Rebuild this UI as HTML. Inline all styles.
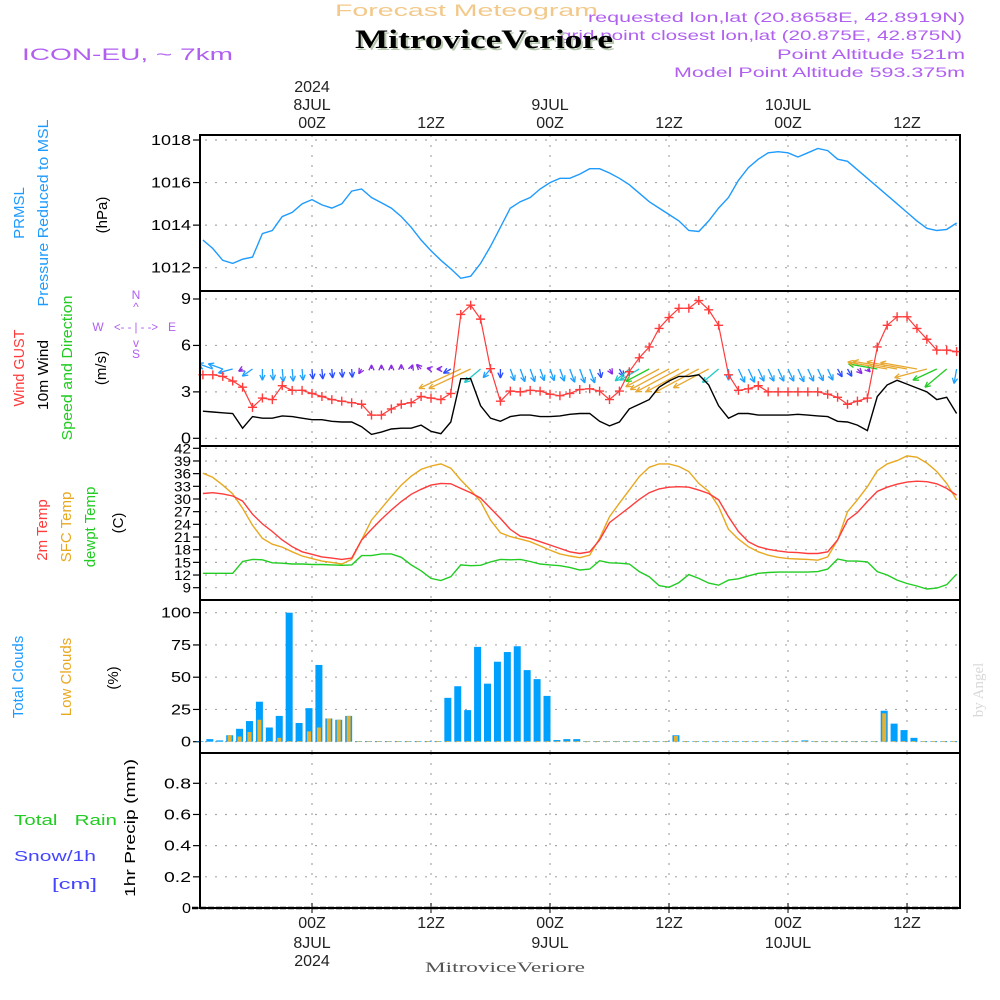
<!DOCTYPE html>
<html><head><meta charset="utf-8">
<style>
html,body{margin:0;padding:0;background:#fff;}
svg{display:block;font-family:"Liberation Sans",sans-serif;}
</style></head>
<body>
<svg id="chart" width="1000" height="1000" viewBox="0 0 1000 1000" xmlns="http://www.w3.org/2000/svg">
  <text x="335" y="16" font-size="17" fill="#f2c98a" textLength="263" lengthAdjust="spacingAndGlyphs">Forecast Meteogram</text>
  <g fill="#b060f0" font-size="14">
    <text x="588" y="22" textLength="377" lengthAdjust="spacingAndGlyphs">requested lon,lat (20.8658E, 42.8919N)</text>
    <text x="560" y="40" textLength="402" lengthAdjust="spacingAndGlyphs">grid point closest lon,lat (20.875E, 42.875N)</text>
    <text x="777" y="59" textLength="188" lengthAdjust="spacingAndGlyphs">Point Altitude 521m</text>
    <text x="674" y="77" textLength="291" lengthAdjust="spacingAndGlyphs">Model Point Altitude 593.375m</text>
  </g>
  <text x="357" y="50" font-size="26" font-weight="bold" font-family="Liberation Serif,serif" fill="#b8c8b0" textLength="258" lengthAdjust="spacingAndGlyphs">MitroviceVeriore</text>
  <text x="355" y="48" font-size="26" font-weight="bold" font-family="Liberation Serif,serif" fill="#000" textLength="258" lengthAdjust="spacingAndGlyphs">MitroviceVeriore</text>
  <text x="22" y="60" font-size="17" fill="#b060f0" textLength="211" lengthAdjust="spacingAndGlyphs">ICON-EU, ~ 7km</text>
  <text x="983" y="690" font-size="15" fill="#d8d8d8" font-family="Liberation Serif,serif" transform="rotate(-90 983 690)" text-anchor="middle">by Angel</text>

  <g font-size="15">
    <text transform="translate(24,213) rotate(-90)" text-anchor="middle" fill="#1e9bff">PRMSL</text>
    <text transform="translate(48,213) rotate(-90)" text-anchor="middle" fill="#1e9bff" textLength="187" lengthAdjust="spacingAndGlyphs">Pressure Reduced to MSL</text>
    <text transform="translate(107,215) rotate(-90)" text-anchor="middle" fill="#000">(hPa)</text>
    <text transform="translate(24,368) rotate(-90)" text-anchor="middle" fill="#ff3b3b" textLength="77" lengthAdjust="spacingAndGlyphs">Wind GUST</text>
    <text transform="translate(48,375) rotate(-90)" text-anchor="middle" fill="#000" textLength="70" lengthAdjust="spacingAndGlyphs">10m Wind</text>
    <text transform="translate(72,368) rotate(-90)" text-anchor="middle" fill="#22cc22" textLength="145" lengthAdjust="spacingAndGlyphs">Speed and Direction</text>
    <text transform="translate(106,368) rotate(-90)" text-anchor="middle" fill="#000">(m/s)</text>
    <g fill="#b060f0" font-size="12" text-anchor="middle">
      <text x="136" y="299">N</text><text x="136" y="311">^</text>
      <text x="136" y="331" textLength="44" lengthAdjust="spacingAndGlyphs">&lt;- - | - -&gt;</text>
      <text x="98" y="331">W</text><text x="172" y="331">E</text>
      <text x="136" y="347">v</text><text x="136" y="358">S</text>
    </g>
    <text transform="translate(47,530) rotate(-90)" text-anchor="middle" fill="#ff3b3b">2m Temp</text>
    <text transform="translate(71,527) rotate(-90)" text-anchor="middle" fill="#e8a820">SFC Temp</text>
    <text transform="translate(95,527) rotate(-90)" text-anchor="middle" fill="#22cc22">dewpt Temp</text>
    <text transform="translate(123,523) rotate(-90)" text-anchor="middle" fill="#000">(C)</text>
    <text transform="translate(23,677) rotate(-90)" text-anchor="middle" fill="#1e9bff">Total Clouds</text>
    <text transform="translate(71,677) rotate(-90)" text-anchor="middle" fill="#e8a820">Low Clouds</text>
    <text transform="translate(118,678) rotate(-90)" text-anchor="middle" fill="#000">(%)</text>
    <text x="14" y="825" fill="#22cc22" textLength="103" lengthAdjust="spacingAndGlyphs">Total&#160;&#160;&#160;Rain</text>
    <text x="14" y="861" fill="#4444ff" textLength="82" lengthAdjust="spacingAndGlyphs">Snow/1h</text>
    <text x="52" y="889" fill="#4444ff" textLength="45" lengthAdjust="spacingAndGlyphs">[cm]</text>
    <text transform="translate(135,828) rotate(-90)" text-anchor="middle" fill="#000" textLength="138" lengthAdjust="spacingAndGlyphs">1hr Precip (mm)</text>
  </g>
  <g id="plot"></g>
  <text x="425" y="972" font-size="15" font-family="Liberation Serif,serif" fill="#555" textLength="160" lengthAdjust="spacingAndGlyphs">MitroviceVeriore</text>
</svg>
<script>
const startHour = -11;
const pressure = [1013.3,1012.9,1012.35,1012.2,1012.4,1012.5,1013.6,1013.75,1014.4,1014.6,1015.0,1015.2,1014.95,1014.8,1015.0,1015.6,1015.7,1015.3,1015.05,1014.8,1014.4,1013.9,1013.3,1012.8,1012.35,1011.95,1011.5,1011.6,1012.2,1013.0,1013.9,1014.8,1015.1,1015.3,1015.7,1016.0,1016.2,1016.2,1016.4,1016.65,1016.65,1016.45,1016.2,1015.9,1015.5,1015.1,1014.8,1014.5,1014.2,1013.75,1013.7,1014.2,1014.8,1015.3,1016.1,1016.7,1017.1,1017.4,1017.45,1017.4,1017.2,1017.4,1017.6,1017.5,1017.1,1017.0,1016.6,1016.2,1015.8,1015.4,1015.0,1014.6,1014.2,1013.85,1013.75,1013.8,1014.1];
const windGust = [4.1,4.1,4.0,3.7,3.3,2.0,2.6,2.5,3.4,3.1,3.1,2.9,2.7,2.5,2.4,2.3,2.2,1.5,1.5,1.9,2.2,2.3,2.7,2.6,2.5,2.9,8.0,8.6,7.7,4.5,2.4,3.05,3.0,3.1,3.05,2.85,2.75,2.9,3.15,3.2,3.05,2.5,3.05,4.3,5.2,5.9,7.1,7.8,8.4,8.4,8.9,8.3,7.3,4.1,3.1,3.2,3.4,3.0,3.0,3.0,3.0,3.0,3.0,2.85,2.65,2.2,2.4,2.6,5.9,7.3,7.85,7.85,7.1,6.4,5.7,5.7,5.6];
const windSpeed = [1.75,1.7,1.65,1.6,0.65,1.4,1.3,1.3,1.45,1.4,1.3,1.2,1.2,1.1,1.05,1.05,0.75,0.25,0.4,0.6,0.65,0.65,0.85,0.45,0.3,1.05,3.85,3.85,2.1,1.3,1.1,1.4,1.5,1.5,1.4,1.4,1.45,1.55,1.6,1.6,1.1,0.8,1.05,1.9,2.2,2.5,3.3,3.7,4.0,4.0,4.1,3.45,2.1,1.3,1.6,1.6,1.5,1.5,1.5,1.5,1.55,1.5,1.45,1.4,1.1,1.05,0.85,0.5,2.7,3.45,3.75,3.5,3.25,3.0,2.5,2.65,1.6];
const windFrom = [110,110,110,75,60,55,0,355,355,355,355,355,355,355,355,355,30,180,180,180,180,200,135,100,90,60,65,65,50,40,0,340,340,340,340,340,340,340,340,340,350,330,330,50,60,62,62,62,62,62,62,62,50,0,335,335,335,335,335,335,335,335,335,335,330,330,315,315,100,100,100,100,100,75,65,50,10];
const temp2m = [31.3,31.5,31.2,30.7,29.5,26.4,24.1,22.3,20.3,18.7,17.5,16.9,16.3,16.0,15.7,16.0,20.3,22.8,25.2,27.4,29.4,31.1,32.3,33.3,33.7,33.6,32.5,31.5,30.2,27.8,25.4,22.8,21.2,20.7,19.9,19.1,18.3,17.5,17.1,17.5,20.3,24.4,26.2,28.0,29.9,31.5,32.4,32.8,32.9,32.8,32.1,31.3,29.8,25.8,22.3,19.9,18.7,18.1,17.7,17.4,17.3,17.1,17.1,17.5,20.3,25.0,26.8,29.4,31.8,32.8,33.5,34.0,34.2,34.1,33.6,32.5,30.9];
const tempSfc = [36.1,35.1,33.3,31.2,27.8,23.8,20.7,19.3,18.6,17.5,16.5,15.9,15.3,15.0,14.6,15.7,20.3,25.0,27.8,30.6,33.3,35.4,37.0,37.8,38.3,37.3,34.5,32.1,29.4,25.0,22.0,21.1,20.5,19.9,18.9,17.9,17.0,16.5,16.1,16.7,20.7,25.8,29.0,32.1,35.3,37.5,38.3,38.3,37.7,36.5,33.7,31.8,28.2,22.8,20.5,18.7,17.5,16.7,16.2,15.9,15.8,15.7,15.5,16.3,20.3,27.0,29.8,32.9,36.7,38.3,39.1,40.2,39.9,38.5,36.5,33.7,29.8];
const dewpoint = [12.4,12.4,12.4,12.4,15.2,15.7,15.6,14.9,14.8,14.6,14.6,14.5,14.5,14.4,14.3,14.4,16.6,16.6,17.0,17.0,16.2,14.4,13.0,11.2,10.7,11.6,14.4,14.2,14.3,15.1,15.7,15.6,15.7,15.2,14.6,14.4,14.2,13.8,13.2,13.4,15.4,14.9,14.8,14.6,12.8,11.6,9.5,9.1,10.2,12.1,11.2,10.1,9.6,10.8,11.1,11.8,12.4,12.6,12.7,12.7,12.7,12.7,12.8,13.4,15.8,15.3,15.3,15.1,12.8,12.0,10.8,10.0,9.4,8.7,8.9,9.7,12.2];
const totalClouds = [0.5,2,1,5,10,16,31,11,20,100,14.5,26,59.5,18,17,20,0.5,0.5,0.5,0.5,0.5,0.5,0.5,0.5,0.5,34,43,24.5,73.5,45,62,69.5,74,55.5,48.5,35.5,1.3,2,2,0.5,0.5,0.5,0.5,0.5,0.5,0.5,0.5,0.5,5,0.5,0.5,0.5,0.5,0.5,0.5,0.5,0.5,0.5,0.5,0.5,0.5,1,0.5,0.5,0.5,0.5,0.5,0.5,0.5,24,14,9,3,0.5,0.5,0.5,0.5];
const lowClouds = [0,0,0,5,4,7.5,17,0.5,3,0.5,0.5,8,11,18,17,20,0.5,0.5,0.5,0.5,0.5,0.5,0.5,0.5,0.5,0.5,0.5,0.5,0.5,0.5,0.5,0.5,0.5,0.5,0.5,0.5,0.5,0.5,0.5,0.5,0.5,0.5,0.5,0.5,0.5,0.5,0.5,0.5,4.5,0.5,0.5,0.5,0.5,0.5,0.5,0.5,0.5,0.5,0.5,0.5,0.5,0.5,0.5,0.5,0.5,0.5,0.5,0.5,0.5,22,0.5,0.5,0.5,0.5,0.5,0.5,0.5];
const precip = [0,0,0,0,0,0,0,0,0,0,0,0,0,0,0,0,0,0,0,0,0,0,0,0,0,0,0,0,0,0,0,0,0,0,0,0,0,0,0,0,0,0,0,0,0,0,0,0,0,0,0,0,0,0,0,0,0,0,0,0,0,0,0,0,0,0,0,0,0,0,0,0,0,0,0,0,0];
const timeTicks = [0,12,24,36,48,60];
const timeTickLabels = ["00Z","12Z","00Z","12Z","00Z","12Z"];
const dateLabels = ["8JUL","","9JUL","","10JUL",""];
const pressureTicks = [1012,1014,1016,1018];
const windTicks = [0,3,6,9];
const tempTicks = [9,12,15,18,21,24,27,30,33,36,39,42];
const cloudTicks = [0,25,50,75,100];
const precipTicks = [0,0.2,0.4,0.6,0.8];

const NS = "http://www.w3.org/2000/svg";
const plot = document.getElementById("plot");
const L = 200, R = 960;
const xs = h => 312 + h * 9.917;
function lin(v0, y0, v1, y1){ return v => y0 + (v - v0) * (y1 - y0) / (v1 - v0); }
const yP = lin(1012, 267.7, 1018, 140);
const yW = lin(0, 438.3, 9, 299);
const yT = lin(9, 587.7, 42, 448.3);
const yC = lin(0, 741.7, 100, 612.7);
const yR = lin(0, 908, 0.8, 783.3);
const panels = [[135,291],[291,446],[446,600],[600,753],[753,908]];

function el(tag, attrs, parent){
  const e = document.createElementNS(NS, tag);
  for (const k in attrs) e.setAttribute(k, attrs[k]);
  (parent || plot).appendChild(e);
  return e;
}
function text(x, y, s, attrs){
  const t = el("text", Object.assign({x:x, y:y, "font-size":15}, attrs||{}));
  t.textContent = s;
  return t;
}

const defs = el("defs", {});
const cp = el("clipPath", {id:"clipAll"}, defs);
el("rect", {x:L, y:135, width:R-L, height:773}, cp);

const grid = el("g", {stroke:"#a8a8a8","stroke-width":1.2,"stroke-dasharray":"2,8"});


panels.forEach(p => {
  timeTicks.forEach(h => el("line", {x1:xs(h), x2:xs(h), y1:p[0], y2:p[1]}, grid));
});
function hgrid(ticks, f){ ticks.forEach(v => el("line", {x1:L+5, x2:R, y1:f(v), y2:f(v)}, grid)); }
hgrid(pressureTicks, yP); hgrid(windTicks, yW); hgrid(tempTicks, yT); hgrid(cloudTicks, yC); hgrid(precipTicks, yR);

function yaxis(ticks, f, name, fmt, fs, cw){
  const g = el("g", {});
  
  
  ticks.forEach(v => {
    el("line", {x1:L-7, x2:L, y1:f(v), y2:f(v), stroke:"#000","stroke-width":1.2}, g);
    const s = fmt(v);
    const w = s.length * cw;
    const t = text(L-9-w, f(v)+5, s, {"font-size":fs||15, textLength:w, lengthAdjust:"spacingAndGlyphs"});
    g.appendChild(t);
  });
}
yaxis(pressureTicks, yP, "pressure-y-axis", v => String(v), 15, 10);
yaxis(windTicks, yW, "wind-y-axis", v => String(v), 16, 10);
yaxis(tempTicks, yT, "temp-y-axis", v => String(v), 14, 8.5);
yaxis(cloudTicks, yC, "cloud-y-axis", v => String(v), 15, 10);
yaxis(precipTicks, yR, "precip-y-axis", v => v === 0 ? "0" : v.toFixed(1), 15, 9);

const tl = el("g", {"text-anchor":"middle", fill:"#222"});


timeTicks.forEach((h, i) => {
  tl.appendChild(text(xs(h), 128, timeTickLabels[i], {"font-size":16}));
  if (dateLabels[i]) tl.appendChild(text(xs(h), 110, dateLabels[i], {"font-size":16}));
  tl.appendChild(text(xs(h), 928, timeTickLabels[i], {"font-size":16}));
  if (dateLabels[i]) tl.appendChild(text(xs(h), 948, dateLabels[i], {"font-size":16}));
  el("line", {x1:xs(h), x2:xs(h), y1:903, y2:913, stroke:"#000"}, tl);
});
tl.appendChild(text(xs(0), 92, "2024", {"font-size":16}));
tl.appendChild(text(xs(0), 966, "2024", {"font-size":16}));

function poly(arr, f, color, name, w){
  const pts = arr.map((v,i) => xs(startHour+i).toFixed(1)+","+f(v).toFixed(1)).join(" ");
  const p = el("polyline", {points:pts, fill:"none", stroke:color, "stroke-width":w||1.3});
  
  
  return p;
}

poly(pressure, yP, "#1e9bff", "pressure-line", 1.4);

const arrows = el("g", {"clip-path":"url(#clipAll)", "stroke-width":1.3, fill:"none"});


function windColor(s){
  if (s < 0.9) return "#8a2be2";
  if (s < 1.25) return "#2a4bff";
  if (s < 1.8) return "#1ea0ff";
  if (s < 2.3) return "#20c8c8";
  if (s < 2.8) return "#22cc22";
  return "#e8a830";
}
windFrom.forEach((d, i) => {
  const s = windSpeed[i];
  const x0 = xs(startHour+i), y0 = 369;
  const len = 8 * Math.pow(Math.max(s,0.6), 1.3);
  const to = (d + 180) * Math.PI/180;
  const dx = Math.sin(to)*len, dy = -Math.cos(to)*len;
  const x1 = x0+dx, y1 = y0+dy;
  const a = Math.atan2(dy, dx);
  const c = windColor(s);
  const g = el("g", {stroke:c}, arrows);
  
  
  el("line", {x1:x0, y1:y0, x2:x1, y2:y1}, g);
  [0.45, -0.45].forEach(o => {
    el("line", {x1:x1, y1:y1, x2:x1-6*Math.cos(a+o), y2:y1-6*Math.sin(a+o)}, g);
  });
});

poly(windSpeed, yW, "#000", "wind-speed-line", 1.4);
poly(windGust, yW, "#ff3b3b", "wind-gust-line", 1.2);
const gm = el("g", {stroke:"#ff3b3b", "stroke-width":1.4});


windGust.forEach((v,i) => {
  const x = xs(startHour+i), y = yW(v);
  el("path", {d:`M${x-4.5},${y}H${x+4.5}M${x},${y-4.5}V${y+4.5}`}, gm);
});

poly(tempSfc, yT, "#e8a820", "sfc-temp-line", 1.4);
poly(temp2m, yT, "#ff3b3b", "temp2m-line", 1.4);
poly(dewpoint, yT, "#22cc22", "dewpoint-line", 1.4);

const cg = el("g", {});


totalClouds.forEach((v,i) => {
  const x = xs(startHour+i) - 3;
  const b = el("rect", {x:x-3.5, y:yC(v), width:7, height:Math.max(yC(0)-yC(v),0.6), fill:"#00a0ff"}, cg);
  
  
  const lv = lowClouds[i];
  if (lv > 0) {
    const o = el("rect", {x:x-2, y:yC(lv), width:4, height:Math.max(yC(0)-yC(lv),0.6), fill:"#e8b030"}, cg);
    
    
  }
});

const pg = el("g", {});


precip.forEach((v,i) => {
  if (v > 0) {
    const r = el("rect", {x:xs(startHour+i)-3.5, y:yR(v), width:7, height:yR(0)-yR(v), fill:"#22cc22"}, pg);
    
    
  }
});

const fr = el("g", {fill:"none", stroke:"#000", "stroke-width":2});


panels.forEach(p => el("rect", {x:L, y:p[0], width:R-L, height:p[1]-p[0]}, fr));
el("line", {x1:L-8, x2:R, y1:908, y2:908, stroke:"#000", "stroke-width":2.5, "stroke-dasharray":"6,2"}, fr);
</script>
</body></html>
